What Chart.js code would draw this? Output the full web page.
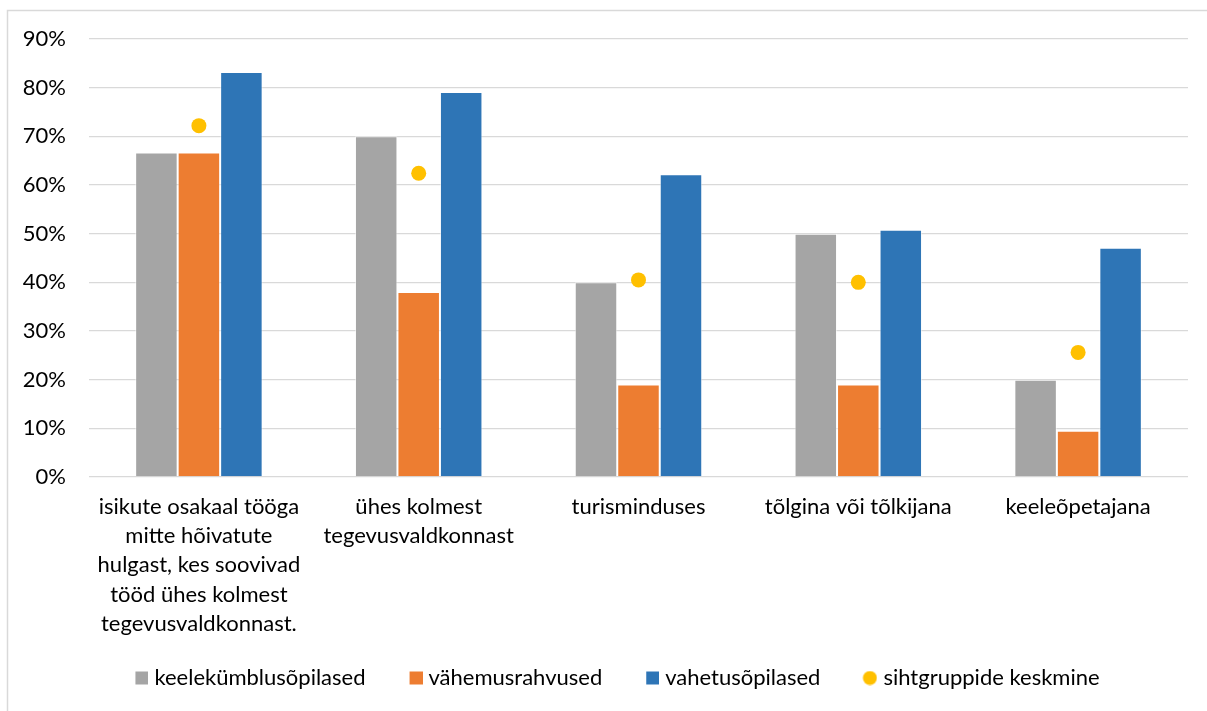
<!DOCTYPE html>
<html>
<head>
<meta charset="utf-8">
<script src="https://cdn.jsdelivr.net/npm/chart.js@4.4.1/dist/chart.umd.min.js"></script>
<style>
  html, body { margin: 0; padding: 0; background: #ffffff; }
  #wrap { position: relative; width: 1207px; height: 711px; }
</style>
</head>
<body>
<div id="wrap"><canvas id="c" width="1207" height="711"></canvas></div>
<script>
// Categories (multi-line labels) and series values in percent
const categories = [
  ["isikute osakaal tööga", "mitte hõivatute", "hulgast, kes soovivad", "tööd ühes kolmest", "tegevusvaldkonnast."],
  ["ühes kolmest", "tegevusvaldkonnast"],
  ["turisminduses"],
  ["tõlgina või tõlkijana"],
  ["keeleõpetajana"]
];
const seriesNames = ["keelekümblusõpilased", "vähemusrahvused", "vahetusõpilased", "sihtgruppide keskmine"];
const keelekumblus = [66.7, 70.0, 40.0, 50.0, 20.0];
const vahemusrahvused = [66.7, 38.0, 19.0, 19.0, 9.5];
const vahetusopilased = [83.2, 79.1, 62.2, 50.8, 47.1];
const keskmine = [72.2, 62.4, 40.5, 40.0, 25.6];
const yTicks = [0, 10, 20, 30, 40, 50, 60, 70, 80, 90];

const colors = ['#A5A5A5', '#ED7D31', '#2E75B6', '#FFC000'];
const FONT = "Lato, 'Open Sans', sans-serif";
const FS = 22;

// legend swatches: blank lead-in on the left, symbol flush right
const SW_W = 40, SW_SLOT = 30;
function swatch(color, round) {
  const c = document.createElement('canvas');
  c.width = SW_W; c.height = 15;
  const g = c.getContext('2d');
  g.fillStyle = color;
  if (round) { g.beginPath(); g.arc(SW_W - 7.5, 7.5, 7, 0, Math.PI * 2); g.fill(); }
  else g.fillRect(SW_W - 13, 1, 13, 13);
  return c;
}
const swatches = colors.map((c, i) => swatch(c, i === 3));

// thin frame along the top and left edges
const framePlugin = {
  id: 'frame',
  beforeDraw(chart) {
    const ctx = chart.ctx;
    ctx.save();
    ctx.fillStyle = '#ffffff';
    ctx.fillRect(0, 0, chart.width, chart.height);
    ctx.strokeStyle = '#d9d9d9';
    ctx.lineWidth = 1.5;
    ctx.beginPath();
    ctx.moveTo(7.5, chart.height);
    ctx.lineTo(7.5, 10.5);
    ctx.lineTo(chart.width, 10.5);
    ctx.stroke();
    ctx.restore();
  }
};

// nudge the legend row a little to the right
const legendShift = {
  id: 'legendShift',
  afterLayout(chart) {
    if (chart.legend) { chart.legend.left += 3; chart.legend.right += 3; }
  }
};

const barCommon = { borderWidth: 1, borderColor: 'rgba(255,255,255,0.55)', barPercentage: 1.0, categoryPercentage: 0.58 };

new Chart(document.getElementById('c'), {
  type: 'bar',
  data: {
    labels: categories,
    datasets: [
      Object.assign({ label: seriesNames[0], data: keelekumblus, backgroundColor: colors[0] }, barCommon),
      Object.assign({ label: seriesNames[1], data: vahemusrahvused, backgroundColor: colors[1] }, barCommon),
      Object.assign({ label: seriesNames[2], data: vahetusopilased, backgroundColor: colors[2] }, barCommon),
      {
        type: 'line', label: seriesNames[3], data: keskmine, showLine: false,
        pointRadius: 7.5, pointHoverRadius: 7.5, pointBorderWidth: 0,
        pointBackgroundColor: colors[3], backgroundColor: colors[3], borderColor: colors[3],
        pointStyle: 'circle'
      }
    ]
  },
  options: {
    responsive: false,
    animation: false,
    layout: { padding: { top: 39, left: 0, right: 0, bottom: 12 } },
    plugins: {
      tooltip: { enabled: false },
      legend: {
        position: 'bottom',
        labels: {
          usePointStyle: true,
          pointStyleWidth: SW_SLOT,
          boxWidth: 13, boxHeight: 13,
          padding: 22,
          color: '#000000',
          font: { family: FONT, size: FS },
          generateLabels(chart) {
            const items = Chart.defaults.plugins.legend.labels.generateLabels(chart);
            items.forEach(it => {
              it.lineWidth = 0;
              it.strokeStyle = 'rgba(0,0,0,0)';
              it.pointStyle = swatches[it.datasetIndex];
            });
            return items;
          }
        }
      }
    },
    scales: {
      x: {
        grid: { display: false, drawTicks: false },
        border: { display: false },
        ticks: {
          color: '#000000', padding: 15, maxRotation: 0, autoSkip: false,
          font: { family: FONT, size: FS, lineHeight: 1.332 }
        },
        afterFit(s) { s.height = 168; }
      },
      y: {
        min: 0, max: 90,
        afterBuildTicks(s) { s.ticks = yTicks.map(v => ({ value: v })); },
        grid: { color: '#d9d9d9', lineWidth: 1.3, drawTicks: false },
        border: { display: false },
        ticks: {
          color: '#000000', padding: 23,
          font: { family: FONT, size: FS },
          callback: v => v + '%'
        },
        afterFit(s) { s.width = 89; }
      },
      yR: {
        position: 'right',
        display: true,
        grid: { display: false, drawTicks: false },
        border: { display: false },
        ticks: { display: false },
        afterFit(s) { s.width = 19; }
      }
    }
  },
  plugins: [framePlugin, legendShift]
});
</script>
</body>
</html>
